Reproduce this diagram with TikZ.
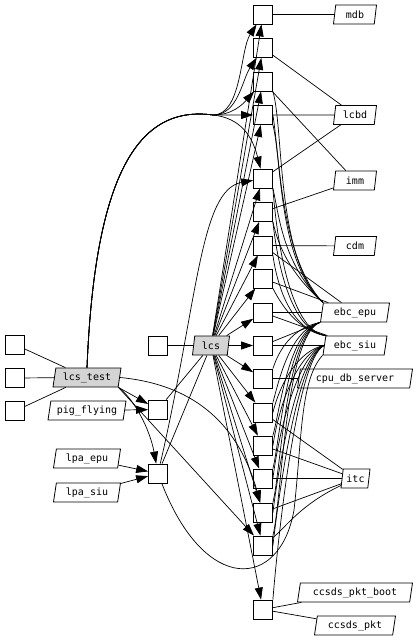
\documentclass[tikz,border=0pt]{standalone}
\usepackage{fontspec}
\setmonofont{DejaVu Sans Mono}
\usetikzlibrary{shapes.geometric,arrows.meta}
\begin{document}
\begin{tikzpicture}[x=1pt,y=-1pt,
  every path/.style={line width=0.7pt},
  bx/.style={draw, minimum width=19pt, minimum height=19pt, inner sep=0pt, line width=0.8pt},
  lbl/.style={draw, trapezium, trapezium left angle=74, trapezium right angle=106,
    trapezium stretches body=true, minimum height=19pt, inner xsep=1pt, inner ysep=0pt,
    font=\ttfamily\fontsize{10}{10}\selectfont, line width=0.8pt},
  gr/.style={lbl, fill=black!17},
  arr/.style={-{Triangle[length=12pt,width=8pt]}}
]
\useasboundingbox (0,0) rectangle (416,640);
% column of boxes
\node[bx] (c1) at (263,14.5) {};
\node[bx] (c2) at (263,48) {};
\node[bx] (c3) at (263,81.5) {};
\node[bx] (c4) at (263,115) {};
\node[bx] (c5) at (263,178.5) {};
\node[bx] (c6) at (263,212) {};
\node[bx] (c7) at (263,245.5) {};
\node[bx] (c8) at (263,278.5) {};
\node[bx] (c9) at (263,312.5) {};
\node[bx] (c10) at (263,345.5) {};
\node[bx] (c11) at (263,378.5) {};
\node[bx] (c12) at (263,412.5) {};
\node[bx] (c13) at (263,445.5) {};
\node[bx] (c14) at (263,478.5) {};
\node[bx] (c15) at (263,512.5) {};
\node[bx] (c16) at (263,545.5) {};
\node[bx] (c17) at (263,609.5) {};
% right labels
\node[lbl, minimum width=43pt] (mdb) at (355,14.5) {mdb};
\node[lbl, minimum width=43pt] (lcbd) at (355,115) {lcbd};
\node[lbl, minimum width=43pt] (imm) at (355,180.5) {imm};
\node[lbl, minimum width=43pt] (cdm) at (355,246) {cdm};
\node[lbl, minimum width=69pt] (epu) at (355,312.5) {ebc\_epu};
\node[lbl, minimum width=64pt] (siu) at (355,345.5) {ebc\_siu};
\node[lbl, minimum width=115pt] (cpu) at (355,378.5) {cpu\_db\_server};
\node[lbl, minimum width=29pt] (itc) at (355.5,478.5) {itc};
\node[lbl, minimum width=115pt] (boot) at (355,592.5) {ccsds\_pkt\_boot};
\node[lbl, minimum width=81pt] (pkt) at (355,625.5) {ccsds\_pkt};
% left part
\node[bx] (l1) at (15,344.5) {};
\node[bx] (l2) at (15,378) {};
\node[bx] (l3) at (15,411) {};
\node[gr, minimum width=68pt] (lt) at (87,377.5) {lcs\_test};
\node[gr, minimum width=37pt] (lcs) at (211,345.5) {lcs};
\node[bx] (b0) at (158,345.5) {};
\node[lbl, minimum width=78pt] (pig) at (87,410.5) {pig\_flying};
\node[bx] (p) at (158,409.5) {};
\node[lbl, minimum width=67pt] (le) at (87,458.5) {lpa\_epu};
\node[lbl, minimum width=67pt] (ls) at (87,492.5) {lpa\_siu};
\node[bx] (q) at (158,473.5) {};

% ---- plain lines on the left
\draw (l1) -- (lt);
\draw (l2) -- (lt);
\draw (l3) -- (lt);
\draw (b0) -- (lcs);
\draw (p) -- (lcs);
\draw (q) -- (lcs);

% ---- arrows on the left
\draw[arr] (pig) -- (p);
\draw[arr] (lt.bottom right corner) -- (p);
\draw[arr] (lt.bottom right corner) .. controls (135,400) and (150,430) .. (q);
\draw[arr] (le) -- (q);
\draw[arr] (ls) -- (q);
\draw[arr] (q) .. controls (198,300) and (200,190) .. (c5);
\draw[arr] (lt.bottom right corner) -- (c16);
\draw[arr] (lt.east) .. controls (200,385) and (240,430) .. (c15);

% ---- big curve from lcs_test over the top
\draw[arr] (lt.north) .. controls (95,170) and (140,105) .. (213,115) -- (c4);
\draw[arr] (lt.north) .. controls (95,170) and (140,105) .. (213,115) .. controls (242,115) and (240,50) .. (c1);
\draw[arr] (lt.north) .. controls (95,170) and (140,105) .. (213,115) .. controls (238,115) and (242,80) .. (c2);
\draw[arr] (lt.north) .. controls (95,170) and (140,105) .. (213,115) .. controls (232,115) and (242,105) .. (c3);
\draw[arr] (lt.north) .. controls (95,170) and (140,105) .. (213,115) .. controls (240,118) and (252,135) .. (c5);

% ---- lcs to every box of the column
\foreach \i in {1,...,17} { \draw[arr] (lcs) -- (c\i); }

% ---- straight lines on the right
\draw (c1) -- (mdb);
\draw (c2) -- (lcbd);
\draw (c3) -- (imm);
\draw (c4) -- (lcbd);
\draw (c5) -- (lcbd);
\draw (c6) -- (imm);
\draw (c7) -- (cdm);
\draw (c7) -- (epu);
\draw (c8) -- (epu);
\draw (c9) -- (epu);
\draw (c9) -- (siu);
\draw (c10) -- (siu);
\draw (c10) -- (epu.bottom left corner);
\draw (c11) -- (cpu);
\draw (c12) -- (itc);
\draw (c13) -- (itc);
\draw (c14) -- (itc);
\draw (c15) -- (itc);
\draw (c16) .. controls (285,528) and (300,505) .. (itc);
\draw (c17) -- (boot);
\draw (c17) -- (pkt);

% ---- bundles of curves on the right
\draw (c3.south east) .. controls (284,130) and (276,260) .. (epu.top left corner);
\draw (c4.south east) .. controls (282,160) and (278,262) .. (epu.top left corner);
\draw (c4.east) .. controls (280,160) and (281,258) .. (epu.top left corner);
\draw (c5.south east) .. controls (279,215) and (283,265) .. (epu.top left corner);
\draw (c6.south east) .. controls (277,240) and (286,270) .. (epu.top left corner);
\draw (siu.top left corner) .. controls (295,330) and (279,300) .. (c8.south east);
\draw (siu.top left corner) .. controls (292,330) and (278,290) .. (c7.south east);
\draw (siu.top left corner) .. controls (290,330) and (277,260) .. (c6.south east);
\draw (siu.top left corner) .. controls (288,330) and (276,230) .. (c5.south east);
\draw (epu.bottom left corner) .. controls (292,328) and (279,350) .. (c11.north east);
\draw (epu.bottom left corner) .. controls (290,330) and (279,380) .. (c12.north east);
\draw (epu.bottom left corner) .. controls (289,330) and (280,410) .. (c13.north east);
\draw (epu.bottom left corner) .. controls (287,332) and (280,440) .. (c14.north east);
\draw (epu.bottom left corner) .. controls (286,334) and (281,470) .. (c15.north east);
\draw (epu.bottom left corner) .. controls (285,336) and (282,500) .. (c16.north east);
\draw (siu.west) .. controls (300,350) and (281,380) .. (c12.east);
\draw (siu.west) .. controls (299,352) and (280,400) .. (c13.east);
\draw (siu.west) .. controls (298,354) and (279,430) .. (c14.east);
\draw (siu.west) .. controls (297,356) and (278,470) .. (c15.east);
\draw (siu.west) .. controls (296,358) and (277,510) .. (c16.east);
\draw (siu.west) .. controls (295,360) and (276,560) .. (c17.north east);
% ---- long curve from the lower box
\draw (q) .. controls (205,595) and (280,590) .. (294,510) .. controls (302,440) and (300,380) .. (siu.bottom left corner);
\end{tikzpicture}
\end{document}
